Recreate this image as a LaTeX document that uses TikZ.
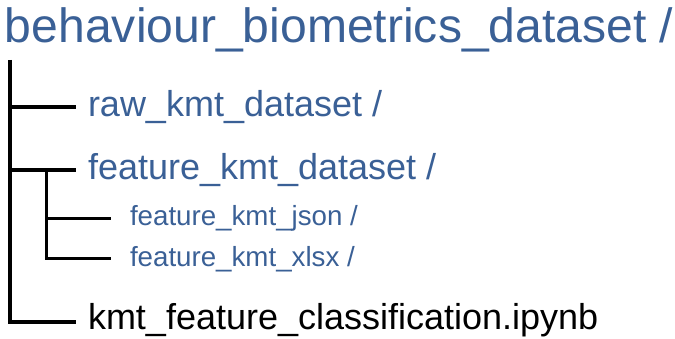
\documentclass[tikz,border=0pt]{standalone}
\usepackage{fontspec}
\setmainfont{Liberation Sans}
\definecolor{dirblue}{RGB}{58,96,150}
\begin{document}
\begin{tikzpicture}[x=1pt,y=-1pt,
  lbl/.style={anchor=base west,inner sep=0pt,outer sep=0pt},
  dir/.style={lbl,text=dirblue},
  trunk/.style={line width=4pt,black},
  subtrunk/.style={line width=3pt,black}]
\useasboundingbox (0,0) rectangle (675,339);
\node[dir,font=\fontsize{48.1}{50}\selectfont] (root) at (5,43) {behaviour\_biometrics\_dataset /};
\node[dir,font=\fontsize{36}{40}\selectfont] (raw) at (88,117) {raw\_kmt\_dataset /};
\node[dir,font=\fontsize{36}{40}\selectfont] (feat) at (88,180) {feature\_kmt\_dataset /};
\node[dir,font=\fontsize{27.7}{30}\selectfont] (json) at (130,226) {feature\_kmt\_json /};
\node[dir,font=\fontsize{27.7}{30}\selectfont] (xlsx) at (130,267) {feature\_kmt\_xlsx /};
\node[lbl,font=\fontsize{36}{40}\selectfont] (nb) at (88,330) {kmt\_feature\_classification.ipynb};
\coordinate (top) at (10,60);
\coordinate (rawL) at (76,107.5);
\coordinate (featL) at (76,170);
\coordinate (nbL) at (76,321.5);
\coordinate (subtop) at (46,170);
\coordinate (jsonL) at (111,218.5);
\coordinate (xlsxL) at (111,259);
\draw[trunk,line join=miter] (top) |- (nbL);
\draw[trunk] (top |- rawL) -- (rawL);
\draw[trunk] (top |- featL) -- (featL);
\draw[subtrunk] (subtop) |- (xlsxL);
\draw[subtrunk] (subtop |- jsonL) -- (jsonL);
\end{tikzpicture}
\end{document}
